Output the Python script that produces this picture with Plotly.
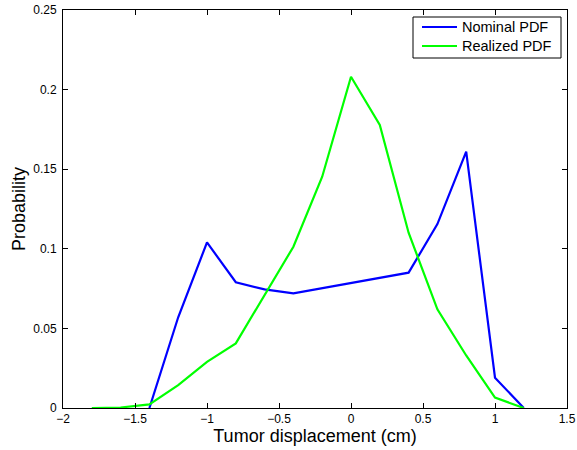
import plotly.graph_objects as go

# Data
nominal_x = [-1.4, -1.2, -1.0, -0.8, -0.6, -0.4, 0.4, 0.6, 0.8, 1.0, 1.2]
nominal_y = [0.0, 0.057, 0.104, 0.079, 0.0745, 0.072, 0.085, 0.1155, 0.161, 0.019, 0.0]

realized_x = [-1.8, -1.6, -1.4, -1.2, -1.0, -0.8, -0.4, -0.2, 0.0, 0.2, 0.4, 0.6, 0.8, 1.0, 1.2]
realized_y = [0.0, 0.0003, 0.0023, 0.0144, 0.029, 0.0406, 0.1013, 0.1453, 0.2081, 0.1778,
              0.1101, 0.062, 0.033, 0.0065, 0.0]

series_names = ["Nominal PDF", "Realized PDF"]
series_colors = ["#0000ff", "#00ff00"]

x_ticks = [-2, -1.5, -1, -0.5, 0, 0.5, 1, 1.5]
x_tick_labels = ["\u22122", "\u22121.5", "\u22121", "\u22120.5", "0", "0.5", "1", "1.5"]
y_ticks = [0, 0.05, 0.1, 0.15, 0.2, 0.25]
y_tick_labels = ["0", "0.05", "0.1", "0.15", "0.2", "0.25"]

font_family = "Liberation Sans, Arial, Helvetica, sans-serif"

W, H = 577, 450
ML, MR, MT, MB = 63, 10, 10, 42
PW, PH = W - ML - MR, H - MT - MB


def px_x(p):
    return (p - ML) / PW


def px_y(p):
    return (H - MB - p) / PH


fig = go.Figure()
for xs, ys, name, color in [(nominal_x, nominal_y, series_names[0], series_colors[0]),
                            (realized_x, realized_y, series_names[1], series_colors[1])]:
    fig.add_trace(go.Scatter(x=xs, y=ys, mode="lines", name=name, showlegend=False,
                             line=dict(color=color, width=2.2)))

axis_common = dict(showline=True, linecolor="black", linewidth=1, mirror="ticks",
                   ticks="inside", ticklen=5, tickcolor="black", showgrid=False,
                   zeroline=False, automargin=False,
                   tickfont=dict(family=font_family, size=12, color="black"))

# Legend drawn as box + line samples + text (MATLAB-like compact legend)
shapes = [dict(type="rect", xref="paper", yref="paper",
               x0=px_x(413), x1=px_x(561), y0=px_y(58), y1=px_y(17),
               line=dict(color="black", width=1), fillcolor="white", layer="above")]
annotations = []
rows = [27, 46]
for name, color, ry in zip(series_names, series_colors, rows):
    shapes.append(dict(type="line", xref="paper", yref="paper",
                       x0=px_x(422), x1=px_x(457), y0=px_y(ry), y1=px_y(ry),
                       line=dict(color=color, width=2.2), layer="above"))
    annotations.append(dict(text=name, xref="paper", yref="paper",
                            x=px_x(460), y=px_y(ry), xanchor="left", yanchor="middle",
                            showarrow=False,
                            font=dict(size=14.5, family=font_family, color="black")))

fig.update_layout(
    width=W, height=H,
    margin=dict(l=ML, r=MR, t=MT, b=MB),
    paper_bgcolor="white", plot_bgcolor="white",
    font=dict(family=font_family, color="black"),
    xaxis=dict(range=[-2, 1.5], tickvals=x_ticks, ticktext=x_tick_labels,
               title=dict(text="Tumor displacement (cm)", font=dict(size=18), standoff=0),
               **axis_common),
    yaxis=dict(range=[0, 0.25], tickvals=y_ticks, ticktext=y_tick_labels,
               ticklabelstandoff=3,
               title=dict(text="Probability", font=dict(size=18), standoff=2),
               **axis_common),
    shapes=shapes,
    annotations=annotations,
    showlegend=False,
)

fig.write_html("out.html")
